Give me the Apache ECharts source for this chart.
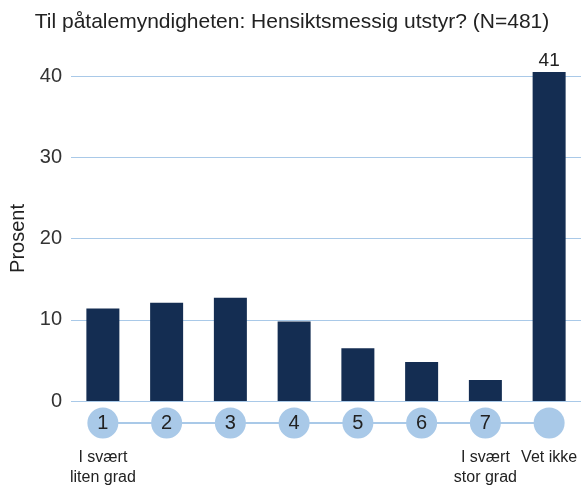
<!DOCTYPE html>
<html><head><meta charset="utf-8">
<script src="https://cdn.jsdelivr.net/npm/echarts@6/dist/echarts.min.js"></script>
<style>html,body{margin:0;padding:0;background:#fff}#c{width:584px;height:489px}</style>
</head><body><div id="c"></div>
<script>
var categories = ["1","2","3","4","5","6","7",""];
var scaleLabels = ["I svært\nliten grad","","","","","","I svært\nstor grad","Vet ikke"];
var values = [11.4, 12.1, 12.7, 9.8, 6.5, 4.8, 2.6, 40.5];
var yTicks = [0, 10, 20, 30, 40];
var title = "Til påtalemyndigheten: Hensiktsmessig utstyr? (N=481)";
var FONT = "Liberation Sans, Arial, sans-serif";
var lightBlue = "#a9c9e8";
var chart = echarts.init(document.getElementById('c'));
chart.setOption({
  animation: false,
  title: {text: title, left: 'center', top: 7, textStyle: {fontFamily: FONT, fontSize: 21, fontWeight: 'normal', color: '#222'}},
  grid: [
    {left: 71, right: 3, top: 76, bottom: 88, outerBoundsMode: 'none', containLabel: false},
    {left: 71, right: 3, top: 413, height: 20, outerBoundsMode: 'none', containLabel: false}
  ],
  xAxis: [
    {gridIndex: 0, type: 'category', data: categories, axisLine: {show: false}, axisTick: {show: false}, axisLabel: {show: false}},
    {gridIndex: 1, type: 'category', data: scaleLabels, axisLine: {show: false}, axisTick: {show: false},
     axisLabel: {interval: 0, margin: 15, fontFamily: FONT, fontSize: 16, color: '#222', lineHeight: 20}}
  ],
  yAxis: [
    {gridIndex: 0, type: 'value', min: yTicks[0], max: yTicks[yTicks.length-1], interval: 10, name: 'Prosent', nameLocation: 'middle', nameGap: 43,
     nameTextStyle: {fontFamily: FONT, fontSize: 20, color: '#222'},
     axisLabel: {fontFamily: FONT, fontSize: 20, color: '#333', margin: 9},
     axisLine: {show: false}, axisTick: {show: false},
     splitLine: {lineStyle: {color: lightBlue, width: 1}}},
    {gridIndex: 1, type: 'value', min: -1, max: 1, show: false}
  ],
  series: [
    {type: 'bar', xAxisIndex: 0, yAxisIndex: 0, data: values, barWidth: 33, clip: false,
     itemStyle: {color: '#142d52'},
     label: {show: true, position: 'top', distance: 2, fontFamily: FONT, fontSize: 19, color: '#222',
       formatter: function(p){ return p.dataIndex === values.length - 1 ? Math.round(p.value) : ''; }}},
    {type: 'line', xAxisIndex: 1, yAxisIndex: 1, data: categories.map(function(c){return 0;}),
     symbol: 'circle', symbolSize: 31, lineStyle: {color: lightBlue, width: 2}, itemStyle: {color: lightBlue},
     label: {show: true, position: 'inside', fontFamily: FONT, fontSize: 20, color: '#222',
       formatter: function(p){ return categories[p.dataIndex]; }}}
  ]
});
</script></body></html>
